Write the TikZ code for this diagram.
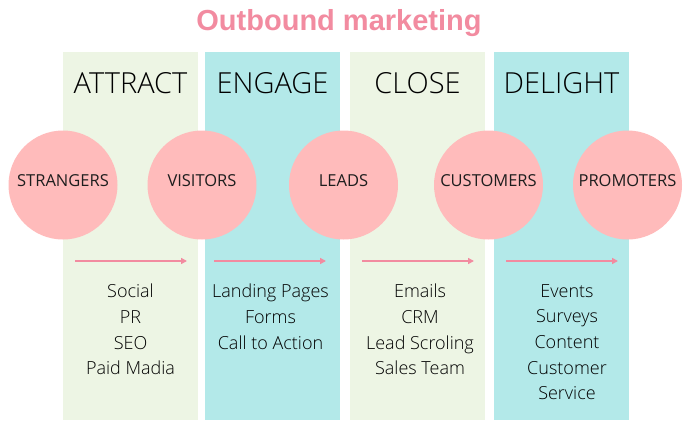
\documentclass[tikz,border=0pt]{standalone}
\usepackage{fontspec}
\setmainfont{Open Sans}
\newfontfamily\lightfont{Open Sans Light}
\newfontfamily\titlefont{Liberation Sans}
\usetikzlibrary{arrows.meta}
\definecolor{colgreen}{HTML}{EDF5E4}
\definecolor{colcyan}{HTML}{B3E9E9}
\definecolor{circpink}{HTML}{FFBBBB}
\definecolor{arrowpink}{HTML}{F28BA0}
\definecolor{titlepink}{HTML}{F28BA0}
\definecolor{txt}{HTML}{1E1E1E}
\tikzset{
  colbox/.style={inner sep=0, outer sep=0, minimum width=135.5pt, minimum height=368pt, anchor=north},
  heading/.style={font=\lightfont\fontsize{29}{32}\selectfont, text=black, inner sep=0},
  stage/.style={circle, fill=circpink, minimum size=109pt, inner sep=0},
  stagelabel/.style={font=\fontsize{16.5}{20}\selectfont, text=txt, inner sep=0},
  itemlist/.style={font=\lightfont\fontsize{18}{25.7}\selectfont, text=black, align=center, inner sep=0, anchor=north},
  flow/.style={draw=arrowpink, line width=1.5pt, -{Triangle[length=6pt,width=6pt]}}
}
\begin{document}
\begin{tikzpicture}[x=1pt,y=-1pt]
\useasboundingbox (0,0) rectangle (700,420);
\fill[white] (0,0) rectangle (700,420);
% title
\node[font=\titlefont\bfseries\fontsize{29}{32}\selectfont, text=titlepink, inner sep=0] (title) at (339,23) {Outbound marketing};
% columns
\node[colbox, fill=colgreen] (c1) at (130.5,52) {};
\node[colbox, fill=colcyan] (c2) at (272.5,52) {};
\node[colbox, fill=colgreen] (c3) at (417.5,52) {};
\node[colbox, fill=colcyan] (c4) at (561.5,52) {};
% headings
\node[heading] (h1) at (130.5,83) {ATTRACT};
\node[heading] (h2) at (272.5,83) {ENGAGE};
\node[heading] (h3) at (417.5,83) {CLOSE};
\node[heading] (h4) at (561.5,83) {DELIGHT};
% circles
\node[stage] (s1) at (63,185) {};
\node[stage] (s2) at (202,185) {};
\node[stage] (s3) at (343.5,185) {};
\node[stage] (s4) at (488.5,185) {};
\node[stage] (s5) at (627.5,185) {};
\node[stagelabel] (l1) at (63,180.5) {STRANGERS};
\node[stagelabel] (l2) at (202,180.5) {VISITORS};
\node[stagelabel] (l3) at (343.5,180.5) {LEADS};
\node[stagelabel] (l4) at (488.5,180.5) {CUSTOMERS};
\node[stagelabel] (l5) at (627.5,180.5) {PROMOTERS};
% arrows
\coordinate (a1s) at (75,261); \coordinate (a1e) at (187,261);
\coordinate (a2s) at (214,261); \coordinate (a2e) at (326,261);
\coordinate (a3s) at (362,261); \coordinate (a3e) at (474,261);
\coordinate (a4s) at (506,261); \coordinate (a4e) at (618,261);
\draw[flow] (a1s) -- (a1e);
\draw[flow] (a2s) -- (a2e);
\draw[flow] (a3s) -- (a3e);
\draw[flow] (a4s) -- (a4e);
% lists
\node[itemlist] (t1) at (130.5,284) {Social\\PR\\SEO\\Paid Madia};
\node[itemlist] (t2) at (270.5,284) {Landing Pages\\Forms\\Call to Action};
\node[itemlist] (t3) at (420,284) {Emails\\CRM\\Lead Scroling\\Sales Team};
\node[itemlist] (t4) at (567,284) {Events\\Surveys\\Content\\Customer\\Service};
\end{tikzpicture}
\end{document}
